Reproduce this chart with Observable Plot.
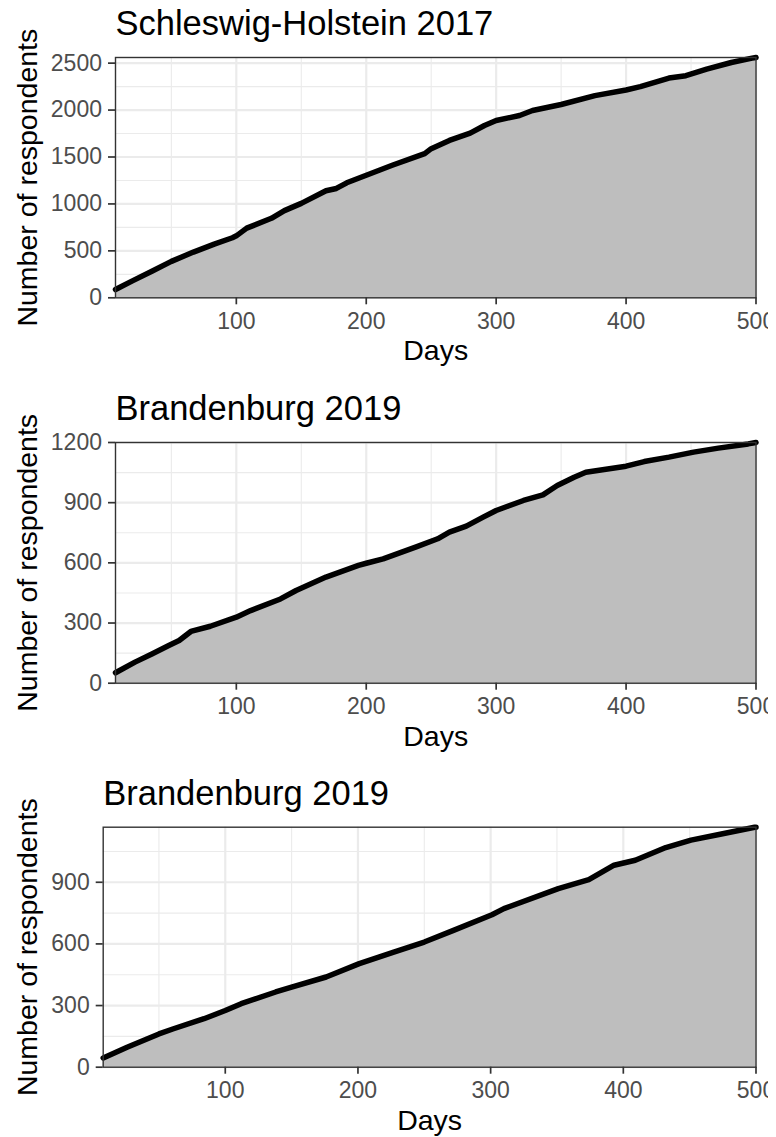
<!DOCTYPE html>
<html>
<head>
<meta charset="utf-8">
<script src="https://cdn.jsdelivr.net/npm/d3@7"></script>
<script src="https://cdn.jsdelivr.net/npm/@observablehq/plot@0.6"></script>
<style>
  html, body { margin: 0; padding: 0; background: #fff; overflow: hidden; }
  #wrap { width: 768px; height: 1137px; position: relative; overflow: hidden; }
  #wrap svg { display: block; max-width: none !important; width: 776px !important; height: 379px !important; }
</style>
</head>
<body>
<div id="wrap"></div>
<script>
// ---- Data ----
const titles = ["Schleswig-Holstein 2017", "Brandenburg 2019", "Brandenburg 2019"];
const xLabel = "Days";
const yLabel = "Number of respondents";
const xTicks = [100, 200, 300, 400, 500];
const xMinor = [50, 150, 250, 350, 450];

// Panel 1: Schleswig-Holstein 2017
const days1 = [7, 20, 35, 50, 67, 83, 97, 100, 108, 127, 137, 150, 169, 177, 185, 200, 220, 245, 250, 264, 280, 291, 300, 318, 328, 350, 376, 400, 411, 433, 446, 462, 481, 497, 500];
const resp1 = [88, 180, 282, 388, 487, 572, 640, 660, 742, 847, 929, 1006, 1140, 1165, 1225, 1306, 1412, 1536, 1589, 1677, 1755, 1836, 1889, 1942, 1995, 2059, 2154, 2214, 2249, 2341, 2366, 2436, 2507, 2553, 2560];
const yTicks1 = [0, 500, 1000, 1500, 2000, 2500];
const yMinor1 = [250, 750, 1250, 1750, 2250];

// Panel 2: Brandenburg 2019
const days2 = [7, 22, 35, 48, 56, 65, 80, 100, 111, 134, 146, 169, 194, 200, 213, 239, 255, 264, 277, 290, 300, 321, 336, 347, 360, 369, 400, 414, 433, 452, 471, 494, 500];
const resp2 = [52, 105, 146, 188, 213, 258, 284, 329, 362, 420, 462, 529, 587, 598, 620, 681, 720, 753, 783, 828, 861, 911, 939, 986, 1027, 1052, 1082, 1105, 1127, 1152, 1172, 1193, 1200];
const yTicks2 = [0, 300, 600, 900, 1200];
const yMinor2 = [150, 450, 750, 1050];

// Panel 3: Brandenburg 2019
const days3 = [8, 26, 50, 61, 84, 100, 112, 138, 150, 176, 201, 227, 250, 272, 301, 310, 351, 374, 393, 409, 432, 451, 473, 499, 500];
const resp3 = [45, 97, 162, 187, 236, 276, 309, 366, 390, 439, 504, 560, 609, 666, 742, 772, 869, 913, 983, 1007, 1069, 1105, 1134, 1168, 1168];
const yTicks3 = [0, 300, 600, 900];
const yMinor3 = [150, 450, 750, 1050];

const FONT = "'Liberation Sans', Arial, Helvetica, sans-serif";

function panel(cfg) {
  const data = cfg.days.map((d, i) => ({day: d, n: cfg.resp[i]}));
  const ymax = d3.max(cfg.resp);
  return Plot.plot({
    width: 776,
    height: cfg.height,
    marginLeft: cfg.ml,
    marginRight: 20.5,
    marginTop: cfg.mt,
    marginBottom: cfg.mb,
    style: {fontFamily: FONT, background: "white", overflow: "visible"},
    x: {domain: [cfg.days[0], 500], axis: null},
    y: {domain: [0, ymax], axis: null},
    marks: [
      Plot.gridX(xMinor, {stroke: "#EBEBEB", strokeOpacity: 1, strokeWidth: 1.1}),
      Plot.gridY(cfg.yMinor.filter(v => v <= ymax), {stroke: "#EBEBEB", strokeOpacity: 1, strokeWidth: 1.1}),
      Plot.gridX(xTicks, {stroke: "#EBEBEB", strokeOpacity: 1, strokeWidth: 2.2}),
      Plot.gridY(cfg.yTicks, {stroke: "#EBEBEB", strokeOpacity: 1, strokeWidth: 2.2}),
      Plot.areaY(data, {x: "day", y: "n", fill: "#BEBEBE"}),
      Plot.lineY(data, {x: "day", y: "n", stroke: "black", strokeWidth: 5.5, strokeLinejoin: "round"}),
      Plot.frame({stroke: "#333333", strokeWidth: 1.4}),
      Plot.axisX(xTicks, {tickSize: 7, tickPadding: 7.7, stroke: "#333333", strokeWidth: 1.7, fill: "#4D4D4D", fontSize: 23, label: null, tickFormat: d => String(d)}),
      Plot.axisY(cfg.yTicks, {tickSize: 7, tickPadding: 6.5, stroke: "#333333", strokeWidth: 1.7, fill: "#4D4D4D", fontSize: 23, label: null, tickFormat: d => String(d)}),
      Plot.text([xLabel], {frameAnchor: "bottom", textAnchor: "middle", lineAnchor: "middle", dy: 53.5, fontSize: 28.5, fill: "black"}),
      Plot.text([yLabel], {frameAnchor: "left", textAnchor: "middle", lineAnchor: "middle", dx: 27 - cfg.ml, rotate: -90, fontSize: 28.5, fill: "black"}),
      Plot.text([cfg.title], {frameAnchor: "top-left", textAnchor: "start", lineAnchor: "middle", dy: -33.5, fontSize: 34.5, fill: "black"})
    ]
  });
}

const wrap = document.getElementById("wrap");
wrap.append(panel({title: titles[0], days: days1, resp: resp1, yTicks: yTicks1, yMinor: yMinor1, height: 379, ml: 115, mt: 57, mb: 81.7}));
wrap.append(panel({title: titles[1], days: days2, resp: resp2, yTicks: yTicks2, yMinor: yMinor2, height: 379, ml: 115, mt: 63, mb: 75.3}));
wrap.append(panel({title: titles[2], days: days3, resp: resp3, yTicks: yTicks3, yMinor: yMinor3, height: 379, ml: 102.7, mt: 68.7, mb: 70.3}));
</script>
</body>
</html>
